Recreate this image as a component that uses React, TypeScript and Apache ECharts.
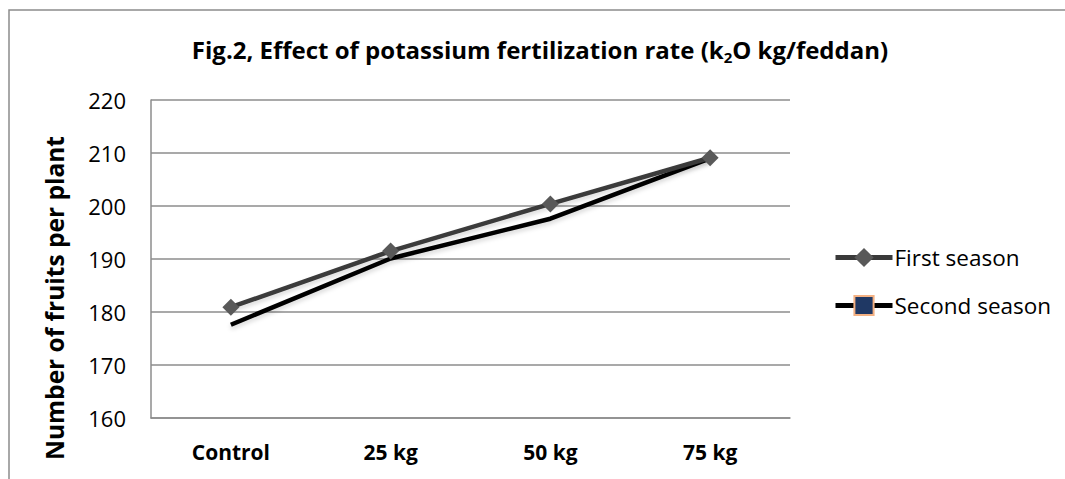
import React, { useEffect, useRef } from "react";
import * as echarts from "echarts";

const categories = ["Control", "25 kg", "50 kg", "75 kg"];
const firstSeason = [180.9, 191.5, 200.4, 209.1];
const secondSeason = [177.6, 190.1, 197.6, 209.0];
const yMin = 160;
const yMax = 220;
const yInterval = 10;
const yAxisTitle = "Number of fruits per plant";

const FONT = "'Open Sans', Lato, sans-serif";

export default function App() {
  const ref = useRef<HTMLDivElement>(null);
  useEffect(() => {
    if (!ref.current) return;
    const chart = echarts.init(ref.current, null, { renderer: "svg" });
    chart.setOption({
      animation: false,
      backgroundColor: "#ffffff",
      title: {
        text: "{t|Fig.2, Effect of potassium fertilization rate (k}{s|2}{t|O kg/feddan)}",
        left: 535,
        top: 29,
        textAlign: "center",
        textStyle: {
          rich: {
            t: { fontFamily: FONT, fontWeight: "bold", fontSize: 24, color: "#000", lineHeight: 30 },
            s: { fontFamily: FONT, fontWeight: "bold", fontSize: 15, color: "#000", lineHeight: 30, verticalAlign: "bottom", padding: [14, 0, 0, 0] },
          },
        },
      },
      graphic: [
        {
          type: "rect",
          shape: { x: 9, y: 10, width: 1200, height: 1000 },
          style: { fill: "none", stroke: "#8c8c8c", lineWidth: 1.5 },
          silent: true,
        },
        {
          type: "text",
          x: 54,
          y: 298,
          rotation: Math.PI / 2,
          style: {
            text: yAxisTitle,
            fontFamily: FONT,
            fontWeight: "bold",
            fontSize: 24.5,
            fill: "#000",
            align: "center",
            verticalAlign: "middle",
          },
          silent: true,
        },
      ],
      legend: {
        orient: "vertical",
        left: 828,
        top: 241,
        itemWidth: 57,
        itemHeight: 24,
        itemGap: 25,
        textStyle: { fontFamily: FONT, fontSize: 22.5, color: "#000", padding: [0, 0, 0, -3] },
        data: [
          { name: "First season", lineStyle: { width: 5, color: "#3a3a3a" } },
          { name: "Second season", lineStyle: { width: 5, color: "#000000" } },
        ],
      },
      grid: { left: 151, top: 100, right: 275, bottom: 61, containLabel: false },
      xAxis: {
        type: "category",
        data: categories,
        boundaryGap: true,
        axisLine: { show: true, lineStyle: { color: "#8c8c8c", width: 1.5 } },
        axisTick: { show: false },
        axisLabel: { fontFamily: FONT, fontWeight: "bold", fontSize: 21, color: "#000", margin: 23 },
      },
      yAxis: {
        type: "value",
        min: yMin,
        max: yMax,
        interval: yInterval,
        axisLine: { show: true, lineStyle: { color: "#8c8c8c", width: 1.5 } },
        axisTick: { show: false },
        axisLabel: { fontFamily: FONT, fontSize: 22, color: "#000", margin: 25 },
        splitLine: { show: true, lineStyle: { color: "#8c8c8c", width: 1.5 } },
      },
      series: [
        {
          name: "First season",
          type: "line",
          data: firstSeason,
          symbol: "diamond",
          symbolSize: 17,
          lineStyle: { color: "#3a3a3a", width: 4.5, shadowColor: "rgba(0,0,0,0.15)", shadowBlur: 4, shadowOffsetY: 3 },
          itemStyle: { color: "#595959" },
          z: 3,
        },
        {
          name: "Second season",
          type: "line",
          data: secondSeason,
          symbol: "rect",
          symbolSize: 15,
          showSymbol: false,
          lineStyle: { color: "#000000", width: 4.5, shadowColor: "rgba(0,0,0,0.15)", shadowBlur: 4, shadowOffsetY: 3 },
          itemStyle: { color: "#1f3864", borderColor: "#f4b183", borderWidth: 1.5 },
          z: 2,
        },
      ],
    });
    return () => chart.dispose();
  }, []);
  return <div ref={ref} style={{ position: "absolute", left: 0, top: 0, width: 1065, height: 479 }} />;
}
